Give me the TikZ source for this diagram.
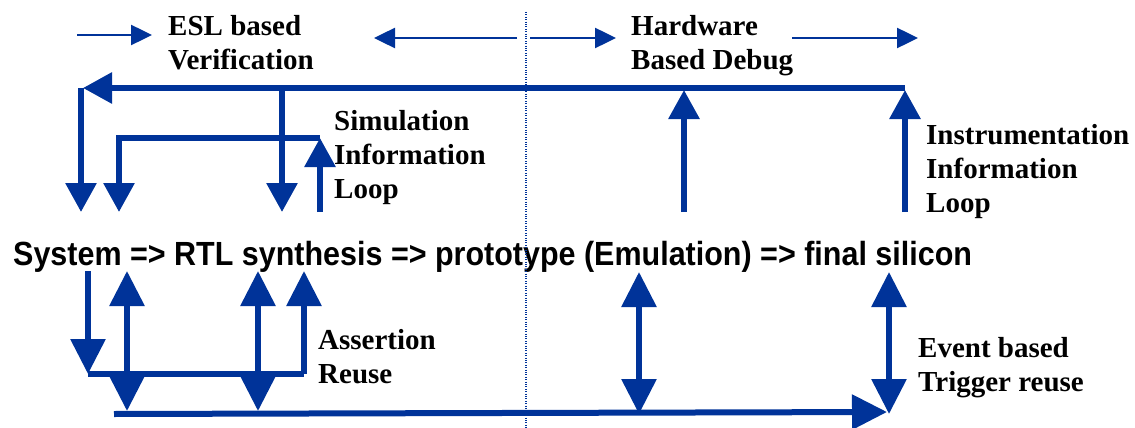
\documentclass[tikz,border=0pt]{standalone}
\usepackage{fontspec}
\setmainfont{Liberation Serif}
\newfontfamily\flowfont[FakeStretch=0.91]{Liberation Sans}
\usetikzlibrary{arrows.meta}
\definecolor{loopblue}{RGB}{0,51,153}

\begin{document}
\begin{tikzpicture}[x=1pt,y=-1pt,
  bigarrow/.style={color=loopblue,line width=6pt,-{Triangle[length=29pt,width=30pt]}},
  lowarrow/.style={color=loopblue,line width=6pt,-{Triangle[length=35pt,width=34pt]}},
  twoway/.style={color=loopblue,line width=6pt,{Triangle[length=35pt,width=34pt]}-{Triangle[length=35pt,width=34pt]}},
  thinarrow/.style={color=loopblue,line width=2.5pt,-{Triangle[length=21pt,width=20pt]}},
  lbl/.style={anchor=base west,inner sep=0pt,align=left,font=\fontsize{29}{34}\selectfont\bfseries}]
\useasboundingbox (0,0) rectangle (1135,428);
% labels (base = last line)
\node[anchor=base west,inner sep=0pt,font=\flowfont\bfseries\fontsize{33.5}{38}\selectfont] (flow) at (13,265)
  {System => RTL synthesis => prototype (Emulation) => final silicon};
\node[lbl] (esl) at (168,70) {ESL based\\Verification};
\node[lbl] (hwdebug) at (631,70) {Hardware\\Based Debug};
\node[lbl] (simloop) at (334,198) {Simulation\\Information\\Loop};
\node[lbl] (instloop) at (926,212) {Instrumentation\\Information\\Loop};
\node[lbl] (assert) at (318,383) {Assertion\\Reuse};
\node[lbl] (trigger) at (918,391) {Event based\\Trigger reuse};
% divider
\coordinate (divtop) at (526,12);
\coordinate (divbot) at (526,428);
\draw[loopblue,line width=1.2pt,dash pattern=on 1pt off 1.4pt] (divtop) -- (divbot);
% top thin arrows
\coordinate (ta1) at (77,35);  \coordinate (tb1) at (152,35);
\coordinate (ta2) at (517,38); \coordinate (tb2) at (374,38);
\coordinate (ta3) at (530,38); \coordinate (tb3) at (616,38);
\coordinate (ta4) at (792,38); \coordinate (tb4) at (918,38);
\foreach \i in {1,...,4}
  \draw[thinarrow] (ta\i) -- (tb\i);
% feedback loops above the flow
\coordinate (fbR) at (905,88);
\coordinate (fbL) at (83,88);
\coordinate (fbM) at (282,88);
\coordinate (fbC) at (81,88);
\draw[bigarrow] (fbR) -- (fbL);
\draw[bigarrow] (fbC) -- (81,212);
\draw[bigarrow] (fbM) -- (282,212);
\coordinate (simA) at (320,212);
\coordinate (simB) at (320,138);
\coordinate (simC) at (119,138);
\draw[bigarrow] (simA) -- (simB);
\draw[bigarrow] (simB) -- (simC) -- (119,212);
\coordinate (emuA) at (684,212);
\coordinate (silA) at (905,212);
\draw[bigarrow] (emuA) -- (684,90);
\draw[bigarrow] (silA) -- (905,90);
% reuse loops below the flow
\coordinate (arA) at (88,271);
\coordinate (arB) at (88,374);
\coordinate (arC) at (304,374);
\draw[lowarrow] (arA) -- (arB);
\draw[color=loopblue,line width=6pt] (arB) -- (arC);
\draw[lowarrow] (arC) -- (304,271);
\draw[twoway] (127,411) -- (127,271);
\draw[twoway] (258,411) -- (258,271);
\draw[twoway] (639,414) -- (639,272);
\draw[twoway] (889,414) -- (889,272);
\coordinate (trA) at (114,414);
\coordinate (trB) at (887,412);
\draw[lowarrow] (trA) -- (trB);
\end{tikzpicture}
\end{document}
